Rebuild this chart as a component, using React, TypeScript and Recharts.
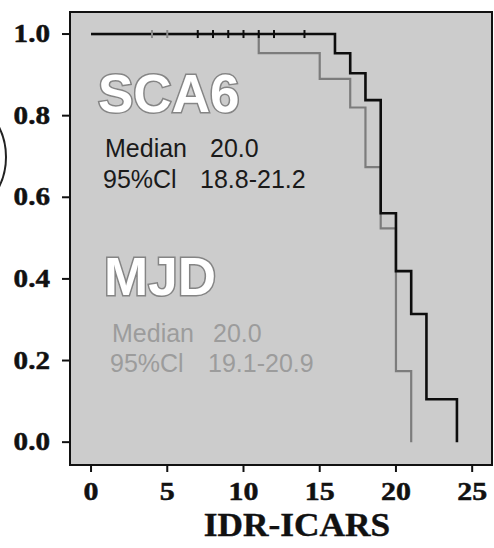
import { ComposedChart, Line, Scatter, XAxis, YAxis, CartesianGrid, ReferenceArea, Customized } from "recharts";

// Kaplan-Meier steps
const sca6Time = [0, 16, 17, 18, 19, 20, 21, 22, 24];
const sca6Surv = [1.0, 0.953, 0.904, 0.838, 0.561, 0.419, 0.314, 0.105, 0.0];
const mjdTime = [0, 11, 15, 17, 18, 19, 20, 21];
const mjdSurv = [1.0, 0.953, 0.89, 0.82, 0.674, 0.524, 0.174, 0.0];

// censored observations
const sca6Censor = [7, 8, 9, 10, 11, 12, 14];
const mjdCensor = [4, 5];

const xTicks = [0, 5, 10, 15, 20, 25];
const yTicks = [0, 0.2, 0.4, 0.6, 0.8, 1.0];
const xDomain = [-1.38, 26.3];
const yDomain = [-0.056, 1.054];

const sca6Data = sca6Time.map((t, i) => ({ t, s: sca6Surv[i] }));
const mjdData = mjdTime.map((t, i) => ({ t, s: mjdSurv[i] }));
const sca6CensorData = sca6Censor.map((t) => ({ t, s: 1.0 }));
const mjdCensorData = mjdCensor.map((t) => ({ t, s: 1.0 }));

const serif = "'Liberation Serif', 'Times New Roman', serif";
const sans = "'Liberation Sans', Arial, sans-serif";

const CensorTick = (color: string) => (props: any) => {
  const { cx, cy } = props;
  return <line x1={cx} x2={cx} y1={cy - 4} y2={cy + 4} stroke={color} strokeWidth={2} />;
};

// scanned labels are wider and heavier than plain Times bold
const XTick = (props: any) => {
  const { x, y, payload } = props;
  return (
    <g transform={`translate(${x},${y + 17}) scale(1.15,1)`}>
      <text x={0} y={0} textAnchor="middle" fontFamily={serif} fontWeight="bold" fontSize={26} fill="#111" stroke="#111" strokeWidth={0.5}>
        {payload.value}
      </text>
    </g>
  );
};

const YTick = (props: any) => {
  const { x, y, payload } = props;
  return (
    <g transform={`translate(${x},${y + 8}) scale(1.12,1)`}>
      <text x={0} y={0} textAnchor="end" fontFamily={serif} fontWeight="bold" fontSize={26} fill="#111" stroke="#111" strokeWidth={0.5}>
        {Number(payload.value).toFixed(1)}
      </text>
    </g>
  );
};

const Annotations = () => (
  <g>
    {/* SCA6 block */}
    <text x={98} y={112} fontFamily={sans} fontWeight="bold" fontSize={53} fill="#ffffff" stroke="#858585" strokeWidth={3} paintOrder="stroke">SCA6</text>
    <text x={105} y={157} fontFamily={sans} fontSize={25} fill="#1a1a1a">Median</text>
    <text x={210} y={157} fontFamily={sans} fontSize={25} fill="#1a1a1a">20.0</text>
    <text x={103} y={188} fontFamily={sans} fontSize={25} fill="#1a1a1a">95%Cl</text>
    <text x={200} y={188} fontFamily={sans} fontSize={25} fill="#1a1a1a">18.8-21.2</text>
    {/* MJD block */}
    <text x={104} y={295} fontFamily={sans} fontWeight="bold" fontSize={53} fill="#ffffff" stroke="#858585" strokeWidth={3} paintOrder="stroke">MJD</text>
    <text x={112} y={342} fontFamily={sans} fontSize={25} fill="#9c9c9c">Median</text>
    <text x={213} y={342} fontFamily={sans} fontSize={25} fill="#9c9c9c">20.0</text>
    <text x={110} y={372} fontFamily={sans} fontSize={25} fill="#9c9c9c">95%Cl</text>
    <text x={208} y={372} fontFamily={sans} fontSize={25} fill="#9c9c9c">19.1-20.9</text>
    {/* axis title */}
    <g transform="translate(297,536) scale(1.07,1)">
      <text x={0} y={0} textAnchor="middle" fontFamily={serif} fontWeight="bold" fontSize={33} fill="#111" stroke="#111" strokeWidth={0.4}>IDR-ICARS</text>
    </g>
    {/* scan artefact: edge of a circle on the page */}
    <circle cx={-60} cy={157} r={66} fill="none" stroke="#222" strokeWidth={2} />
  </g>
);

export default function App() {
  return (
    <div style={{ position: "absolute", left: 0, top: 0, width: 494, height: 548, background: "#fff" }}>
      <ComposedChart width={494} height={548} margin={{ top: 12, right: 2, bottom: 0, left: 0 }}>
        <CartesianGrid horizontal={false} vertical={false} fill="#cccccc" fillOpacity={1} stroke="none" />
        <XAxis
          type="number"
          dataKey="t"
          domain={xDomain}
          ticks={xTicks}
          allowDataOverflow
          height={83}
          axisLine={false}
          tickSize={7}
          tickMargin={11}
          tickLine={{ stroke: "#111", strokeWidth: 2 }}
          tick={XTick}
        />
        <YAxis
          type="number"
          dataKey="s"
          domain={yDomain}
          ticks={yTicks}
          allowDataOverflow
          width={70}
          axisLine={false}
          tickSize={8}
          tickMargin={12}
          tickLine={{ stroke: "#111", strokeWidth: 2 }}
          tick={YTick}
        />
        <ReferenceArea x1={xDomain[0]} x2={xDomain[1]} y1={yDomain[0]} y2={yDomain[1]} fill="none" stroke="#111" strokeWidth={2} ifOverflow="visible" />
        <Line data={mjdData} dataKey="s" type="stepAfter" stroke="#7c7c7c" strokeWidth={2.2} dot={false} isAnimationActive={false} />
        <Line data={sca6Data} dataKey="s" type="stepAfter" stroke="#0d0d0d" strokeWidth={2.6} dot={false} isAnimationActive={false} />
        <Scatter data={mjdCensorData} dataKey="s" shape={CensorTick("#8a8a8a")} isAnimationActive={false} />
        <Scatter data={sca6CensorData} dataKey="s" shape={CensorTick("#0d0d0d")} isAnimationActive={false} />
        <Customized component={Annotations} />
      </ComposedChart>
    </div>
  );
}
